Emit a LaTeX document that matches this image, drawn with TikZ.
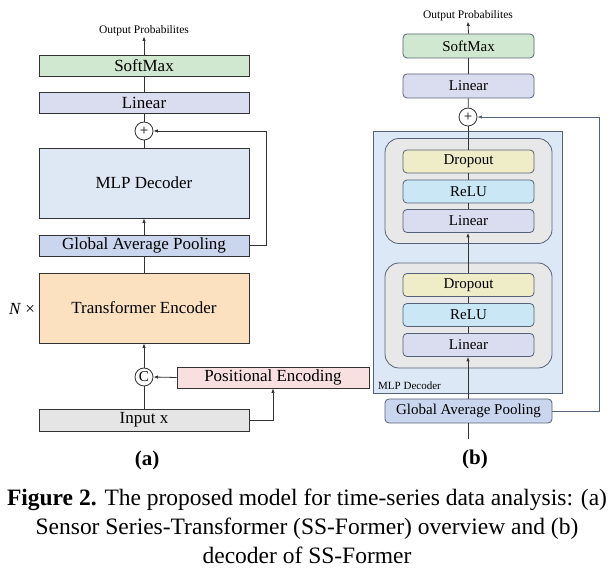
\documentclass[tikz,border=0pt]{standalone}
\usepackage{fontspec}
\setmainfont{Liberation Serif}
\usetikzlibrary{arrows.meta}
\definecolor{smgreen}{HTML}{D0E8CF}
\definecolor{linpurple}{HTML}{DADCEF}
\definecolor{mlpblue}{HTML}{DEE8F5}
\definecolor{gapblue}{HTML}{C9D6EE}
\definecolor{teorange}{HTML}{FBE1BF}
\definecolor{pepink}{HTML}{F9E0E0}
\definecolor{ingray}{HTML}{E5E5E5}
\definecolor{dropyellow}{HTML}{EFECC8}
\definecolor{relucyan}{HTML}{C9E7F5}
\definecolor{blkgray}{HTML}{E8E8E8}
\definecolor{outerblue}{HTML}{DDE8F6}
\definecolor{bdrb}{HTML}{56627A}
\definecolor{bdra}{HTML}{333333}
\begin{document}
\begin{tikzpicture}[x=1pt,y=-1pt,
  boxa/.style={draw=bdra, line width=0.8pt, minimum width=210pt, minimum height=21pt, inner sep=0pt, font=\fontsize{17}{20}\selectfont},
  boxb/.style={draw=bdrb, line width=0.8pt, rounded corners=4pt, minimum width=131pt, minimum height=23pt, inner sep=0pt, font=\fontsize{15}{18}\selectfont},
  opcirc/.style={circle, draw=bdra, fill=white, line width=0.8pt, minimum size=18pt, inner sep=0pt, font=\fontsize{15}{15}\selectfont},
  block/.style={draw=bdrb, line width=0.8pt, fill=blkgray, rounded corners=14pt, minimum width=167pt, minimum height=105pt, inner sep=0pt},
  conn/.style={line width=0.8pt, draw=bdra},
  arr/.style={conn, -{Latex[length=4.5pt,width=3.5pt]}},
  lbl/.style={inner sep=0pt, font=\fontsize{11.5}{13}\selectfont}
]
\useasboundingbox (0,0) rectangle (614,585);
\fill[white] (0,0) rectangle (614,585);

% ---------- (a) ----------
\node[lbl] (outa) at (144,31) {Output Probabilites};
\node[boxa, fill=smgreen] (sma) at (144,65.5) {SoftMax};
\node[boxa, fill=linpurple] (lina) at (144,102.5) {Linear};
\node[opcirc] (plusa) at (144,131) {+};
\node[boxa, fill=mlpblue, minimum height=70pt] (mlpa) at (144,183) {MLP Decoder};
\node[boxa, fill=gapblue] (gapa) at (144,245.5) {Global Average Pooling};
\node[boxa, fill=teorange, minimum height=70pt] (tea) at (144,308) {Transformer Encoder};
\node[inner sep=0pt, font=\fontsize{17}{20}\selectfont] (nx) at (22,309) {\textit{N} ×};
\node[opcirc] (ca) at (144,377) {C};
\node[boxa, fill=pepink, minimum width=192pt] (pe) at (273,377.5) {Positional Encoding};
\node[boxa, fill=ingray, minimum height=22pt] (ina) at (144,420) {Input x};
\node[inner sep=0pt, font=\fontsize{21}{24}\selectfont\bfseries] (la) at (147,460) {(a)};
\coordinate (skipa) at (266,131);
\coordinate (pebend) at (273,420);

\draw[arr] (sma.north) -- (outa.south);
\draw[conn] (lina) -- (sma);
\draw[conn] (plusa) -- (lina);
\draw[conn] (mlpa) -- (plusa);
\draw[arr] (gapa.north) -- (mlpa.south);
\draw[conn] (tea) -- (gapa);
\draw[arr] (ca.north) -- (tea.south);
\draw[conn] (ina) -- (ca);
\draw[arr] (pe.west) -- (ca.east);
\draw[arr] (ina.east) -- (pebend) -- (pe.south);
\draw[arr] (gapa.east) -| (skipa) -- (plusa.east);

% ---------- (b) ----------
\node[draw=bdrb, line width=0.8pt, fill=outerblue, minimum width=189pt, minimum height=262pt, inner sep=0pt] (outer) at (467.5,262) {};
\node[lbl, anchor=west, font=\fontsize{11}{13}\selectfont] (mlpl) at (378,385.5) {MLP Decoder};
\node[block] (blk1) at (468.5,191) {};
\node[block] (blk2) at (468.5,315.5) {};
\node[lbl] (outb) at (468,16) {Output Probabilites};
\node[boxb, fill=smgreen, minimum height=24pt] (smb) at (468.5,46) {SoftMax};
\node[boxb, fill=linpurple, minimum height=24pt] (linb) at (468.5,86) {Linear};
\node[opcirc] (plusb) at (468,117) {+};
\node[boxb, fill=dropyellow] (do1) at (468.5,161.5) {Dropout};
\node[boxb, fill=relucyan] (re1) at (468.5,191.5) {ReLU};
\node[boxb, fill=linpurple] (li1) at (468.5,221) {Linear};
\node[boxb, fill=dropyellow] (do2) at (468.5,285) {Dropout};
\node[boxb, fill=relucyan] (re2) at (468.5,315) {ReLU};
\node[boxb, fill=linpurple] (li2) at (468.5,345) {Linear};
\node[boxb, fill=gapblue, minimum width=167pt, minimum height=24pt] (gapb) at (468.5,411) {Global Average Pooling};
\coordinate (inb) at (468,439);
\coordinate (skipb) at (599,117);
\node[inner sep=0pt, font=\fontsize{21}{24}\selectfont\bfseries] (lb) at (475,459) {(b)};

\draw[arr] (smb.north) -- (outb.south);
\draw[conn] (linb) -- (smb);
\draw[conn] (plusb) -- (linb);
\draw[conn] (plusb.south) -- (plusb.south |- do1.north);
\draw[conn] (do1) -- (re1);
\draw[conn] (re1) -- (li1);
\draw[arr] (do2.north -| plusb) -- (li1.south -| plusb);
\draw[conn] (do2) -- (re2);
\draw[conn] (re2) -- (li2);
\draw[arr] (gapb.north -| plusb) -- (li2.south -| plusb);
\draw[conn] (inb) -- (inb |- gapb.south);
\draw[arr, draw=bdrb] (gapb.east) -| (skipb) -- (plusb.east);

% ---------- caption ----------
\node[align=center, inner sep=0pt, font=\fontsize{23.5}{29}\selectfont] (cap) at (307,526)
  {\textbf{Figure 2.} The proposed model for time-series data analysis: (a)\\
   Sensor Series-Transformer (SS-Former) overview and (b)\\
   decoder of SS-Former};
\end{tikzpicture}
\end{document}
